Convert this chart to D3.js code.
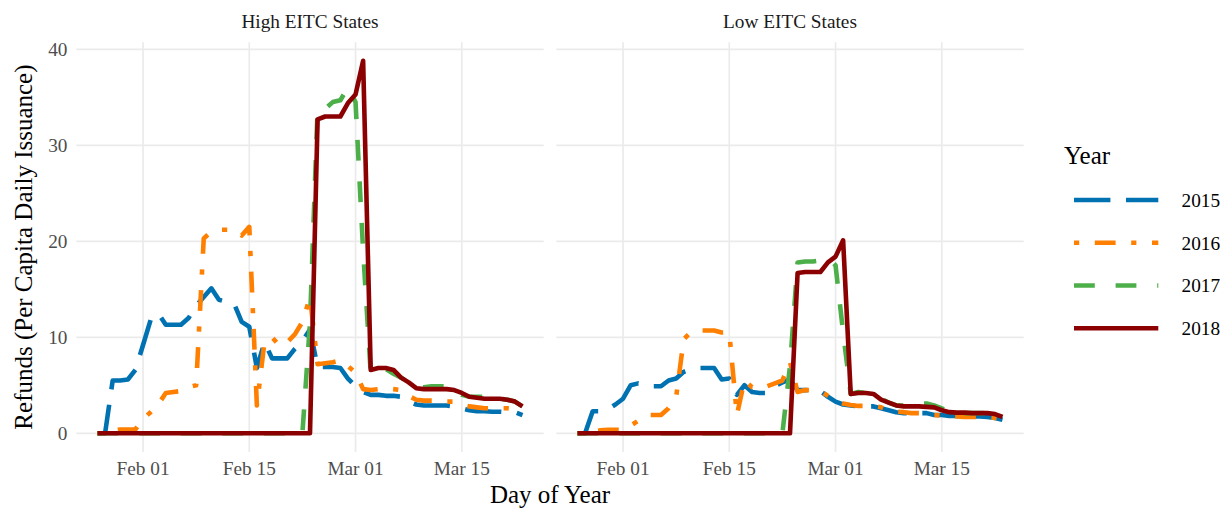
<!DOCTYPE html>
<html>
<head>
<meta charset="utf-8">
<script src="https://cdn.jsdelivr.net/npm/d3@7"></script>
<style>
  html, body { margin: 0; padding: 0; background: #fff; }
  svg { display: block; }
  text { font-family: "Liberation Serif", "Times New Roman", serif; }
</style>
</head>
<body>
<svg id="chart" width="1224" height="510"></svg>
<script>
// Daily refund issuance, Jan 26 - Mar 23 (days placed on a common calendar year)
const days = [
  "01-26","01-27","01-28","01-29","01-30","01-31",
  "02-01","02-02","02-03","02-04","02-05","02-06","02-07","02-08","02-09","02-10",
  "02-11","02-12","02-13","02-14","02-15","02-16","02-17","02-18","02-19","02-20",
  "02-21","02-22","02-23","02-24","02-25","02-26","02-27","02-28",
  "03-01","03-02","03-03","03-04","03-05","03-06","03-07","03-08","03-09","03-10",
  "03-11","03-12","03-13","03-14","03-15","03-16","03-17","03-18","03-19","03-20",
  "03-21","03-22","03-23"
];

const years = ["2015", "2016", "2017", "2018"];
const panels = ["High EITC States", "Low EITC States"];
const yTicks = [0, 10, 20, 30, 40];
const xTickDays = ["02-01", "02-15", "03-01", "03-15"];

// High EITC states
const high2015 = [0,0,5.5,5.5,5.6,6.6,9.2,11.8,12.5,11.3,11.3,11.3,12.0,13.3,14.2,15.1,13.9,13.7,13.5,11.6,11.1,6.8,9.5,7.8,7.8,7.8,8.8,9.6,10.8,6.9,6.9,6.9,6.8,5.7,4.9,4.3,4.0,4.0,3.9,3.9,3.8,3.3,3.0,2.9,2.9,2.9,2.9,2.8,2.6,2.4,2.3,2.3,2.25,2.25,2.2,2.2,1.9];
const high2016 = [0,0,0.3,0.4,0.4,0.4,1.5,2.2,3.0,4.2,4.3,4.4,4.8,5.0,20.3,21.0,21.2,21.2,21.2,20.6,21.5,2.9,9.5,10.0,9.1,9.5,10.3,11.6,14.2,7.2,7.3,7.4,7.6,7.0,6.3,4.6,4.5,4.6,4.7,4.6,4.5,3.9,3.5,3.4,3.4,3.4,3.3,3.3,3.0,2.8,2.7,2.6,2.6,2.6,2.6,2.5,2.1];
const high2017 = [0,0,0,0,0,0,0,0,0,0,0,0,0,0,0,0,0,0,0,0,0,0,0,0,0,0,0,0,11.5,33.8,33.8,34.5,34.7,36.0,34.5,19.0,6.3,6.6,6.7,6.2,5.8,5.3,4.8,4.8,4.9,4.9,4.9,4.7,4.0,3.8,3.8,3.8,3.6,3.6,3.5,3.3,2.8];
const high2018 = [0,0,0,0,0,0,0,0,0,0,0,0,0,0,0,0,0,0,0,0,0,0,0,0,0,0,0,0,0,32.7,33.0,33.0,33.0,34.4,35.3,38.8,6.6,6.8,6.8,6.6,5.8,5.3,4.7,4.6,4.6,4.6,4.6,4.5,4.2,3.8,3.7,3.6,3.6,3.6,3.5,3.3,2.8];

// Low EITC states
const low2015 = [0,0,2.3,2.3,2.5,3.0,3.6,5.0,5.2,5.0,4.9,4.9,5.5,5.7,6.4,6.7,6.8,6.8,6.8,5.6,5.7,4.0,5.0,4.3,4.2,4.2,4.9,5.3,5.6,4.5,4.5,4.5,4.4,3.8,3.3,3.0,2.9,2.8,2.8,2.8,2.6,2.4,2.2,2.1,2.1,2.1,2.1,1.9,1.9,1.8,1.8,1.75,1.75,1.75,1.7,1.6,1.4];
const low2016 = [0,0,0.2,0.3,0.35,0.35,0.35,0.8,1.3,1.9,1.9,1.9,2.6,3.8,9.8,10.6,10.7,10.7,10.7,10.5,10.5,1.9,5.5,4.8,4.6,4.9,5.2,5.5,7.4,4.3,4.5,4.5,4.4,3.9,3.4,3.1,2.95,2.85,2.85,2.85,2.7,2.4,2.25,2.2,2.1,2.1,2.0,1.9,1.85,1.75,1.75,1.7,1.7,1.7,1.7,1.6,1.5];
const low2017 = [0,0,0,0,0,0,0,0,0,0,0,0,0,0,0,0,0,0,0,0,0,0,0,0,0,0,0,0,7.0,17.8,17.9,17.9,18.0,18.3,17.5,10.5,4.1,4.3,4.2,3.9,3.6,3.2,2.9,2.9,3.0,3.1,3.1,2.9,2.6,2.2,2.2,2.1,2.1,2.1,2.1,2.0,1.7];
const low2018 = [0,0,0,0,0,0,0,0,0,0,0,0,0,0,0,0,0,0,0,0,0,0,0,0,0,0,0,0,0,16.7,16.8,16.8,16.8,17.8,18.4,20.1,4.1,4.2,4.2,4.1,3.5,3.2,2.9,2.8,2.8,2.8,2.75,2.7,2.4,2.2,2.15,2.15,2.1,2.1,2.1,2.0,1.7];

const panelSeries = [
  [high2015, high2016, high2017, high2018],
  [low2015, low2016, low2017, low2018]
];

// Styling per year
const colors = ["#0072B2", "#FF7F00", "#4DAF4A", "#8B0000"];
const lw = 4.6;
const unit = 5.2;
const dashes = [
  [7, 3].map(v => v * unit).join(","),
  [1, 3, 4, 3].map(v => v * unit).join(","),
  [4, 4].map(v => v * unit).join(","),
  null
];

const smallFont = 19.3, titleFont = 25;

const parseDay = d3.timeParse("%Y-%m-%d");
const dates = days.map(d => parseDay("2018-" + d));

const svg = d3.select("#chart");

// Layout
const panelTop = 42.2, panelBottom = 451.9;
const panelW = 467.5, panelGap = 12.5, firstLeft = 76.25;

// Scales (5% expansion on both axes)
const tExt = d3.extent(dates, d => +d);
const tPad = (tExt[1] - tExt[0]) * 0.05;
const allVals = panelSeries.flat(2);
const yMax = d3.max(allVals), yMin = 0;
const yPad = (yMax - yMin) * 0.05;
const y = d3.scaleLinear().domain([yMin - yPad, yMax + yPad]).range([panelBottom, panelTop]);

panels.forEach((name, p) => {
  const left = firstLeft + p * (panelW + panelGap);
  const x = d3.scaleTime()
    .domain([new Date(tExt[0] - tPad), new Date(tExt[1] + tPad)])
    .range([left, left + panelW]);

  const g = svg.append("g");

  // grid
  g.selectAll("line.hgrid").data(yTicks).join("line")
    .attr("x1", left).attr("x2", left + panelW)
    .attr("y1", d => y(d)).attr("y2", d => y(d))
    .attr("stroke", "#EBEBEB").attr("stroke-width", 1.7);
  const xt = xTickDays.map(d => parseDay("2018-" + d));
  g.selectAll("line.vgrid").data(xt).join("line")
    .attr("x1", d => x(d)).attr("x2", d => x(d))
    .attr("y1", panelTop).attr("y2", panelBottom)
    .attr("stroke", "#EBEBEB").attr("stroke-width", 1.7);

  // x tick labels
  const fmt = d3.timeFormat("%b %d");
  g.selectAll("text.xt").data(xt).join("text")
    .attr("x", d => x(d)).attr("y", 474.5)
    .attr("text-anchor", "middle")
    .attr("font-size", smallFont).attr("fill", "#4D4D4D")
    .text(d => fmt(d));

  // strip label
  g.append("text")
    .attr("x", left + panelW / 2).attr("y", 28)
    .attr("text-anchor", "middle")
    .attr("font-size", smallFont).attr("fill", "#1A1A1A")
    .text(name);

  // series
  const line = d3.line()
    .x((v, i) => x(dates[i]))
    .y(v => y(v));
  panelSeries[p].forEach((vals, k) => {
    g.append("path")
      .attr("d", line(vals))
      .attr("fill", "none")
      .attr("stroke", colors[k])
      .attr("stroke-width", lw)
      .attr("stroke-linejoin", "round")
      .attr("stroke-linecap", "butt")
      .attr("stroke-dasharray", dashes[k]);
  });
});

// y tick labels
svg.selectAll("text.yt").data(yTicks).join("text")
  .attr("x", 67.5).attr("y", d => y(d))
  .attr("dy", "0.35em")
  .attr("text-anchor", "end")
  .attr("font-size", smallFont).attr("fill", "#4D4D4D")
  .text(d => d);

// axis titles
svg.append("text")
  .attr("x", firstLeft + (2 * panelW + panelGap) / 2).attr("y", 503)
  .attr("text-anchor", "middle").attr("font-size", titleFont).attr("fill", "#000")
  .text("Day of Year");
svg.append("text")
  .attr("transform", `translate(32,${(panelTop + panelBottom) / 2}) rotate(-90)`)
  .attr("text-anchor", "middle").attr("font-size", titleFont).attr("fill", "#000")
  .text("Refunds (Per Capita Daily Issuance)");

// legend
const lg = svg.append("g");
lg.append("text")
  .attr("x", 1064).attr("y", 164)
  .attr("font-size", titleFont).attr("fill", "#000")
  .text("Year");
const keyY = d3.scalePoint().domain(years).range([200, 328.3]);
years.forEach((yr, k) => {
  lg.append("line")
    .attr("x1", 1074).attr("x2", 1158.3)
    .attr("y1", keyY(yr)).attr("y2", keyY(yr))
    .attr("stroke", colors[k]).attr("stroke-width", lw)
    .attr("stroke-linecap", "butt")
    .attr("stroke-dasharray", dashes[k]);
  lg.append("text")
    .attr("x", 1181.5).attr("y", keyY(yr)).attr("dy", "0.35em")
    .attr("font-size", smallFont).attr("fill", "#000")
    .text(yr);
});
</script>
</body>
</html>
